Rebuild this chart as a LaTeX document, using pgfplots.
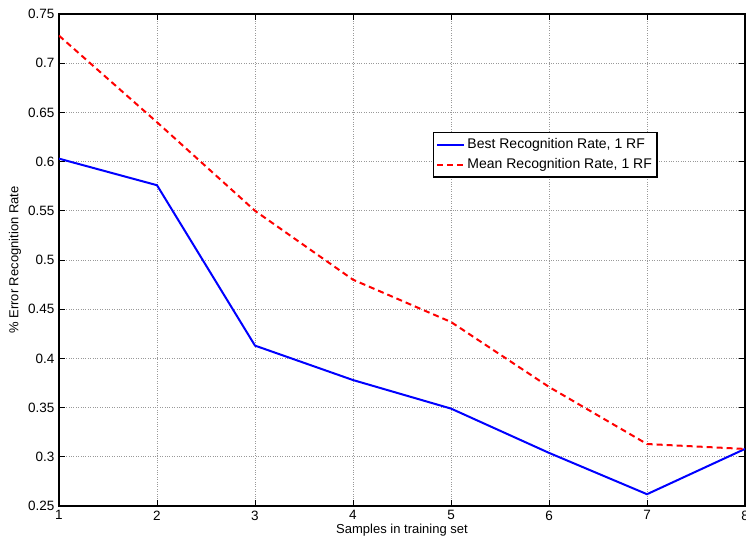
\documentclass[border=0pt]{standalone}
\usepackage{pgfplots}
\pgfplotsset{compat=1.18}
\usepackage{fontspec}
\setmainfont{Liberation Sans}
\begin{document}
\fontsize{13.5}{15}\selectfont
\begin{tikzpicture}
\path[use as bounding box] (-59pt,-35pt) rectangle (687pt,506pt);
\begin{axis}[at={(0,0)}, anchor=south west, scale only axis,
  width=686pt, height=492pt,
  xmin=1, xmax=8, ymin=0.25, ymax=0.75,
  xtick={1,2,3,4,5,6,7,8},
  ytick={0.25,0.3,0.35,0.4,0.45,0.5,0.55,0.6,0.65,0.7,0.75},
  yticklabels={0.25,0.3,0.35,0.4,0.45,0.5,0.55,0.6,0.65,0.7,0.75},
  /pgf/number format/assume math mode=true,
  tick label style={font=\fontsize{13.5}{15}\selectfont},
  label style={font=\fontsize{13}{15}\selectfont},
  tick align=inside, major tick length=6pt, tick style={black, line width=0.8pt},
  grid=major, grid style={dotted, gray!80, line width=0.8pt},
  axis line style={line width=1.5pt},
  xlabel={Samples in training set},
  ylabel={\% Error Recognition Rate},
  xlabel style={at={(axis description cs:0.5,-0.0488)}, anchor=center},
  ylabel style={at={(axis description cs:-0.064,0.5)}, anchor=center},
  legend style={at={(rel axis cs:0.545,0.760)}, anchor=north west, draw=black, line width=1.2pt,
    font=\fontsize{14}{15}\selectfont, inner xsep=3pt, inner ysep=4pt, row sep=4pt},
  legend image code/.code={\draw[#1] (0pt,0pt) -- (27pt,0pt);},
  legend cell align=left,
]
\addplot[blue, line width=2pt] coordinates {
(1,0.603) (2,0.576) (3,0.413) (4,0.378) (5,0.349) (6,0.304) (7,0.262) (8,0.308)};
\addlegendentry{Best Recognition Rate, 1 RF}
\addplot[red, line width=2pt, dash pattern=on 6pt off 4pt] coordinates {
(1,0.728) (2,0.640) (3,0.550) (4,0.480) (5,0.437) (6,0.371) (7,0.313) (8,0.308)};
\addlegendentry{Mean Recognition Rate, 1 RF}
\end{axis}
\end{tikzpicture}
\end{document}
